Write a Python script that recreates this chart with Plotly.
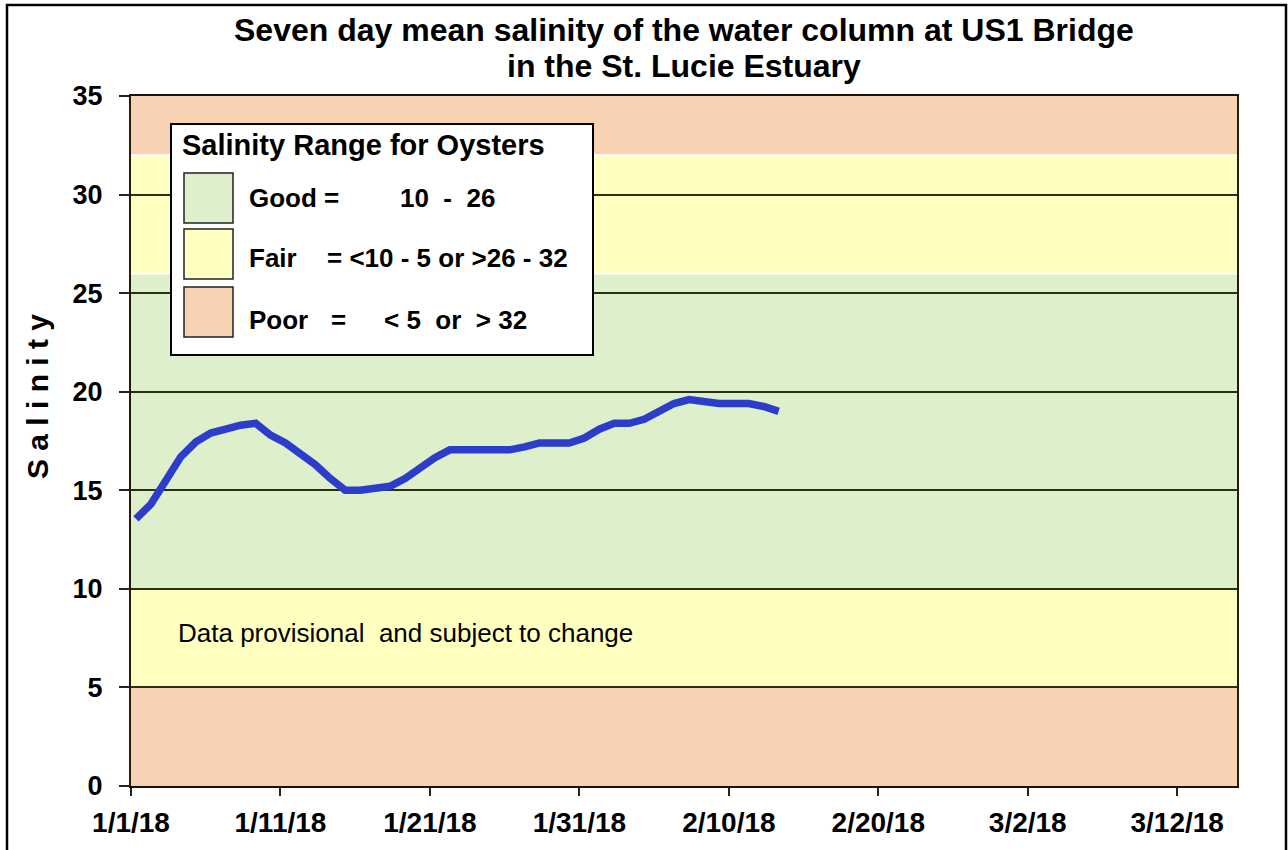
import plotly.graph_objects as go
import pandas as pd

# ---- data ----
start_date = "2018-01-01 08:00"
salinity = [13.55, 14.3, 15.5, 16.7, 17.45, 17.9, 18.1, 18.3, 18.4, 17.8,
            17.4, 16.9, 16.3, 15.6, 15.0, 15.0, 15.1, 15.2, 15.6, 16.15,
            16.65, 17.05, 17.05, 17.05, 17.05, 17.05, 17.2, 17.4, 17.4, 17.4,
            17.65, 18.1, 18.4, 18.4, 18.6, 18.95, 19.4, 19.6, 19.5, 19.4,
            19.4, 19.4, 19.25, 19.0]
dates = pd.date_range(start_date, periods=len(salinity), freq="D")

tick_dates = ["2018-01-01", "2018-01-11", "2018-01-21", "2018-01-31",
              "2018-02-10", "2018-02-20", "2018-03-02", "2018-03-12"]
tick_labels = ["1/1/18", "1/11/18", "1/21/18", "1/31/18",
               "2/10/18", "2/20/18", "3/2/18", "3/12/18"]
y_ticks = [0, 5, 10, 15, 20, 25, 30, 35]

# salinity bands: (low, high, colour)
PEACH, YELLOW, GREEN = "#F8D3B3", "#FFFFBF", "#DDEFCB"
bands = [(0, 5, PEACH), (5, 10, YELLOW), (10, 26, GREEN), (26, 32, YELLOW), (32, 35, PEACH)]

# ---- layout geometry ----
W, H = 1288, 850
L, R, T, B = 131, 1237, 96, 786
PW, PH = R - L, B - T

def px(xp):
    return (xp - L) / PW

def py(yp):
    return (B - yp) / PH

FONT = "Liberation Sans, Arial, sans-serif"

fig = go.Figure()
fig.add_trace(go.Scatter(x=dates, y=salinity, mode="lines",
                         line=dict(color="#2C3CCB", width=7.5),
                         hoverinfo="x+y", showlegend=False))

shapes = []
for lo, hi, col in bands:
    shapes.append(dict(type="rect", xref="paper", yref="y", x0=0, x1=1, y0=lo, y1=hi,
                       fillcolor=col, line=dict(width=0), layer="below"))
for yv in (26, 32):
    shapes.append(dict(type="line", xref="paper", yref="y", x0=0, x1=1, y0=yv, y1=yv,
                       line=dict(color="white", width=2), layer="below"))

# outer frame
shapes.append(dict(type="rect", xref="paper", yref="paper",
                   x0=px(7), x1=px(1286), y0=py(860), y1=py(5),
                   line=dict(color="black", width=2.5), fillcolor="rgba(0,0,0,0)"))

# legend box
shapes.append(dict(type="rect", xref="paper", yref="paper",
                   x0=px(171), x1=px(593), y0=py(355), y1=py(124),
                   fillcolor="white", line=dict(color="black", width=2), layer="above"))
for (y0, y1), col in zip([(173, 223), (229, 279), (287, 337)], [GREEN, YELLOW, PEACH]):
    shapes.append(dict(type="rect", xref="paper", yref="paper",
                       x0=px(184), x1=px(233), y0=py(y1), y1=py(y0),
                       fillcolor=col, line=dict(color="#222222", width=1.5), layer="above"))

def ann(text, x, y, size, bold=True, xanchor="left", color="black", textangle=0):
    return dict(text=f"<b>{text}</b>" if bold else text, x=px(x), y=py(y),
                xref="paper", yref="paper", xanchor=xanchor, yanchor="middle",
                showarrow=False, textangle=textangle,
                font=dict(family=FONT, size=size, color=color))

annotations = [
    ann("Seven day mean salinity of the water column at US1 Bridge", 684, 30, 32, xanchor="center"),
    ann("in the St. Lucie Estuary", 684, 66, 32, xanchor="center"),
    ann("Salinity Range for Oysters", 180, 145, 29),
    ann("Good =", 247, 198, 26),
    ann("10\u00a0\u00a0-\u00a0\u00a026", 398, 198, 26),
    ann("Fair", 247, 258, 26),
    ann("= &lt;10 - 5 or &gt;26 - 32", 325, 258, 26),
    ann("Poor", 247, 320, 26),
    ann("=", 329, 320, 26),
    ann("&lt; 5\u00a0\u00a0or\u00a0\u00a0&gt; 32", 382, 320, 26),
    ann("Data provisional\u00a0 and subject to change", 176, 633, 26, bold=False),
    ann("S a l i n i t y", 37, 397, 30, xanchor="center", textangle=-90),
]

fig.update_layout(
    width=W, height=H,
    margin=dict(l=L, r=W - R, t=T, b=H - B, pad=0),
    paper_bgcolor="white", plot_bgcolor="white",
    shapes=shapes, annotations=annotations,
    showlegend=False,
    xaxis=dict(type="date", range=["2018-01-01", "2018-03-16"],
               tickvals=tick_dates, ticktext=tick_labels, automargin=False,
               ticks="outside", ticklen=8, tickwidth=1.5, tickcolor="#222",
               showgrid=False, zeroline=False,
               showline=True, linecolor="#1a1208", linewidth=2, mirror=True,
               ticklabelstandoff=2,
               tickfont=dict(family=FONT, size=28, color="black", weight="bold")),
    yaxis=dict(range=[0, 35], tickvals=y_ticks, automargin=False,
               ticks="outside", ticklen=10, tickwidth=1.5, tickcolor="#222",
               showgrid=True, gridcolor="#2a2f1a", gridwidth=1.5, zeroline=False,
               showline=True, linecolor="#2a1a08", linewidth=2, mirror=True,
               ticklabelstandoff=11,
               tickfont=dict(family=FONT, size=27, color="black", weight="bold")),
)

fig.write_html("out.html", config={"displayModeBar": False},
               post_script="document.body.style.margin='0';")
